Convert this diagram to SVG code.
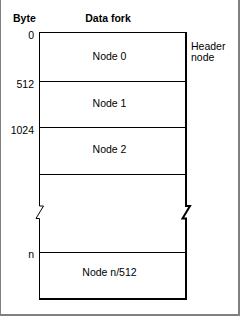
<svg xmlns="http://www.w3.org/2000/svg" width="240" height="316" viewBox="0 0 240 316">
<style>
.t{font-family:"Liberation Sans",Arial,sans-serif;font-size:10.5px;fill:#000}
.b{font-weight:bold}
.thin{stroke:#000;stroke-width:1;fill:none}
.thick{stroke:#000;stroke-width:2;fill:none}
</style>
<rect x="0" y="0" width="240" height="316" fill="#fff"/>
<g id="frame">
<line x1="0.5" y1="0" x2="0.5" y2="316" stroke="#808080" stroke-width="1"/>
<line x1="239" y1="0" x2="239" y2="316" stroke="#808080" stroke-width="2"/>
<line x1="0" y1="315" x2="240" y2="315" stroke="#808080" stroke-width="2"/>
</g>
<g id="headers">
<text class="t b" x="13" y="22">Byte</text>
<text class="t b" x="108" y="22" text-anchor="middle">Data fork</text>
</g>
<g id="offsets">
<text class="t" x="34" y="38.5" text-anchor="end">0</text>
<text class="t" x="34" y="87.5" text-anchor="end">512</text>
<text class="t" x="34" y="134" text-anchor="end">1024</text>
<text class="t" x="34" y="257.5" text-anchor="end">n</text>
</g>
<g id="connectors">
<path class="thin" d="M39.5,32.5 H186 M39.5,81.5 H185 M39.5,127.5 H185 M39.5,174.5 H185 M39.5,252.5 H185"/>
<path class="thin" d="M39.5,32 V206 H43.5 L36,218.5 H39.5 V299"/>
<path class="thick" d="M186,32 V206 H190 L182.5,218.5 H186 V299"/>
<path class="thick" d="M39,299 H187"/>
</g>
<g id="node0"><text class="t" x="109.5" y="60" text-anchor="middle">Node 0</text></g>
<g id="node1"><text class="t" x="109.5" y="107" text-anchor="middle">Node 1</text></g>
<g id="node2"><text class="t" x="109.5" y="153" text-anchor="middle">Node 2</text></g>
<g id="nodeN"><text class="t" x="109.5" y="276" text-anchor="middle">Node n/512</text></g>
<g id="headerLabel">
<text class="t" x="191" y="50">Header</text>
<text class="t" x="191" y="60.5">node</text>
</g>
</svg>
